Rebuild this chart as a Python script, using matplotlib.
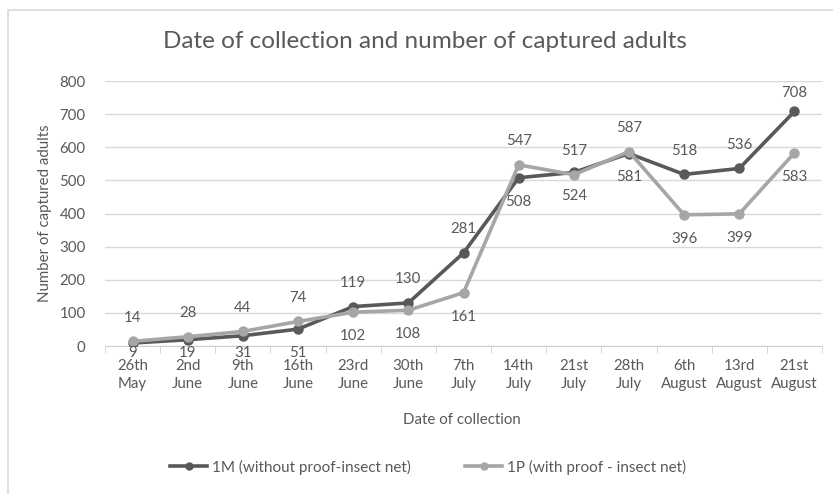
import matplotlib
matplotlib.use("Agg")
import matplotlib.pyplot as plt
from matplotlib.lines import Line2D
from matplotlib.patches import Rectangle

plt.rcParams['font.family'] = ['Lato', 'DejaVu Sans']

dates = ["26th\nMay", "2nd\nJune", "9th\nJune", "16th\nJune", "23rd\nJune", "30th\nJune",
         "7th\nJuly", "14th\nJuly", "21st\nJuly", "28th\nJuly", "6th\nAugust",
         "13rd\nAugust", "21st\nAugust"]
m_values = [9, 19, 31, 51, 119, 130, 281, 508, 524, 581, 518, 536, 708]
p_values = [14, 28, 44, 74, 102, 108, 161, 547, 517, 587, 396, 399, 583]
m_name = "1M (without proof-insect net)"
p_name = "1P (with proof - insect net)"
title = "Date of collection and number of captured adults"
xlabel = "Date of collection"
ylabel = "Number of captured adults"

# label placement (style): True = above the point for series 1M
m_above = [False, False, False, False, True, True, True, False, False, False, True, True, True]

W, H = 833, 494
fig = plt.figure(figsize=(W / 100, H / 100), dpi=100)
fig.patch.set_facecolor("white")

# chart border (cropped at right/bottom)
fig.add_artist(Rectangle((8 / W, -0.1), 1.2, 1 - 10 / H + 0.1, transform=fig.transFigure,
                         fill=False, edgecolor="#d9d9d9", linewidth=1.2))

left, right, top, bottom = 105, 822, 81, 346
ax = fig.add_axes([left / W, 1 - bottom / H, (right - left) / W, (bottom - top) / H])

text_c = "#595959"
dark = "#595959"
light = "#a6a6a6"

x = list(range(len(dates)))
ax.plot(x, m_values, color=dark, lw=2.6, marker="o", ms=6.5, zorder=3, label=m_name)
ax.plot(x, p_values, color=light, lw=2.6, marker="o", ms=6.5, zorder=4, label=p_name)

ax.set_xlim(-0.5, len(dates) - 0.5)
ax.set_ylim(0, 800)
ax.set_yticks(range(0, 801, 100))
ax.grid(axis="y", color="#d9d9d9", lw=1)
ax.set_axisbelow(True)
for s in ["top", "right", "left"]:
    ax.spines[s].set_visible(False)
ax.spines["bottom"].set_color("#d0d0d0")
ax.tick_params(axis="y", length=0, labelsize=10.8, colors=text_c, pad=14)
ax.set_xticks(x)
ax.set_xticklabels(dates)
ax.tick_params(axis="x", length=0, labelsize=10.8, colors=text_c, pad=9)
for t in ax.get_xticklabels():
    t.set_linespacing(1.45)
ax.set_xticks([i - 0.5 for i in range(len(dates) + 1)], minor=True)
ax.tick_params(axis="x", which="minor", length=5, color="#d0d0d0")

off = 72
def lab_y(v, above):
    if above:
        return min(v + off, 764)
    return max(v - off, -21)

for i in x:
    a = m_above[i]
    ax.text(i, lab_y(m_values[i], a), str(m_values[i]), ha="center", va="center",
            fontsize=10.8, color=text_c, zorder=5, clip_on=False)
    ax.text(i, lab_y(p_values[i], not a), str(p_values[i]), ha="center", va="center",
            fontsize=10.8, color=text_c, zorder=5, clip_on=False)

fig.text(425 / W, 1 - 42 / H, title, ha="center", va="center", fontsize=17.5,
         color=text_c)
fig.text(462 / W, 1 - 420 / H, xlabel, ha="center", va="center", fontsize=10.8, color=text_c)
fig.text(45 / W, 1 - 213 / H, ylabel, ha="center", va="center", rotation=90,
         fontsize=10.8, color=text_c)

handles = [Line2D([], [], color=dark, lw=2.6, marker="o", ms=5),
           Line2D([], [], color=light, lw=2.6, marker="o", ms=5)]
fig.legend(handles, [m_name, p_name], loc="center", bbox_to_anchor=(428 / W, 1 - 467 / H),
           ncol=2, frameon=False, fontsize=11, labelcolor=text_c, handlelength=2.4,
           handletextpad=0.3, columnspacing=3.6)

fig.savefig("out.png", dpi=100, facecolor="white")
